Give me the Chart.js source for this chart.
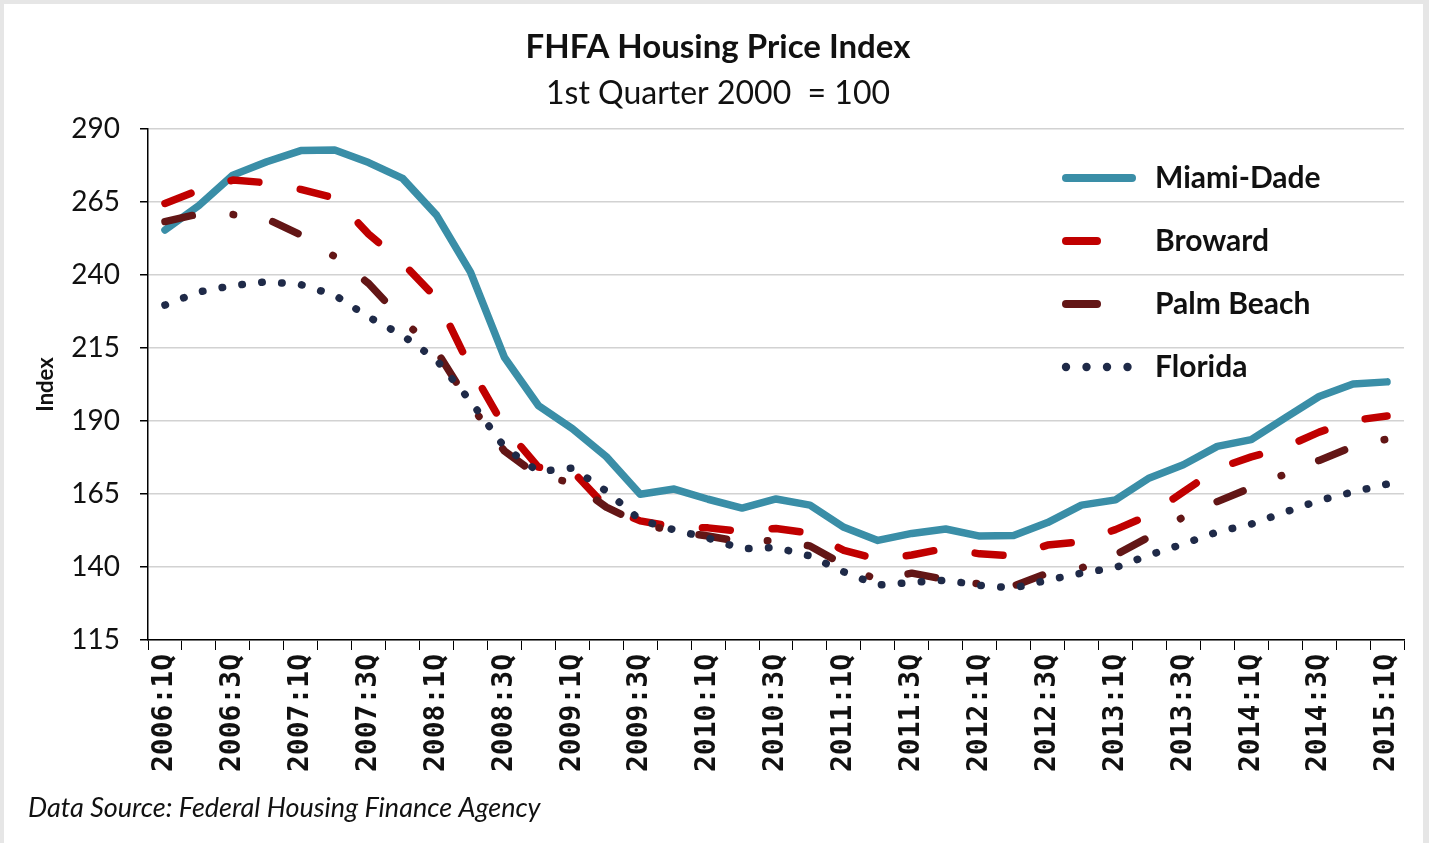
<!DOCTYPE html>
<html><head><meta charset="utf-8">
<script src="https://cdn.jsdelivr.net/npm/chart.js@4.4.1/dist/chart.umd.min.js"></script>
<style>html,body{margin:0;padding:0;background:#fff;overflow:hidden}#wrap{width:1429px;height:843px;position:relative}canvas{display:block}</style>
</head><body><div id="wrap"><canvas id="c" width="1429" height="843"></canvas></div>
<script>
const TITLE = 'FHFA Housing Price Index';
const SUBTITLE = '1st Quarter 2000  = 100';
const Y_TITLE = 'Index';
const SOURCE = 'Data Source: Federal Housing Finance Agency';

const quarters = ['2006:1Q','2006:2Q','2006:3Q','2006:4Q','2007:1Q','2007:2Q','2007:3Q','2007:4Q',
  '2008:1Q','2008:2Q','2008:3Q','2008:4Q','2009:1Q','2009:2Q','2009:3Q','2009:4Q',
  '2010:1Q','2010:2Q','2010:3Q','2010:4Q','2011:1Q','2011:2Q','2011:3Q','2011:4Q',
  '2012:1Q','2012:2Q','2012:3Q','2012:4Q','2013:1Q','2013:2Q','2013:3Q','2013:4Q',
  '2014:1Q','2014:2Q','2014:3Q','2014:4Q','2015:1Q'];

const miamiDade = [255.4,263.8,274.2,278.8,282.6,282.8,278.5,273.1,260.5,241.0,211.8,195.3,187.4,177.8,164.9,166.7,163.2,160.2,163.3,161.2,153.6,149.1,151.5,153.0,150.6,150.8,155.2,161.2,163.0,170.5,175.0,181.3,183.6,191.1,198.4,202.7,203.4];
const broward = [264.5,269.1,272.5,271.6,269.3,266.4,254.0,244.1,232.0,208.2,187.9,174.2,172.9,160.5,155.8,153.7,153.4,152.2,153.2,151.6,145.7,142.6,144.1,146.4,144.5,143.8,147.5,148.7,152.8,157.8,165.7,173.7,177.7,181.0,186.2,190.2,191.7];
const palmBeach = [258.3,260.9,260.7,259.2,253.7,246.3,237.1,224.6,214.0,195.5,179.7,171.2,168.9,160.5,154.9,152.2,150.6,148.6,149.1,147.2,140.7,135.5,137.9,135.7,134.2,133.5,137.9,139.7,144.1,150.4,157.1,162.4,167.2,171.8,176.5,181.3,183.8];
const florida = [229.7,234.2,236.4,237.7,236.7,233.1,225.6,219.3,210.9,196.8,181.1,172.7,173.9,166.0,156.1,152.7,149.9,146.2,146.7,143.8,138.3,133.8,134.7,135.5,133.7,132.8,135.5,137.9,139.8,144.1,147.9,152.0,154.7,158.8,162.8,165.7,168.4];

const seriesNames = ['Miami-Dade','Broward','Palm Beach','Florida'];
const seriesColors = ['#3A8EA7','#C00000','#631616','#1F2A48'];
const Y_MIN = 115, Y_MAX = 290, Y_STEP = 25;

const W = 7.5;
const datasets = [
  {label: seriesNames[0], data: miamiDade, borderColor: seriesColors[0], borderWidth: W, borderDash: [], order: 4},
  {label: seriesNames[1], data: broward, borderColor: seriesColors[1], borderWidth: W, borderDash: [28, 42], order: 3},
  {label: seriesNames[2], data: palmBeach, borderColor: seriesColors[2], borderWidth: W, borderDash: [28, 41, 0.5, 40], order: 2},
  {label: seriesNames[3], data: florida, borderColor: seriesColors[3], borderWidth: W, borderDash: [0.5, 19.5], order: 1}
].map(d => Object.assign(d, {fill: false, tension: 0, pointRadius: 0, pointHoverRadius: 0,
  borderCapStyle: 'round', borderJoinStyle: 'round', backgroundColor: d.borderColor}));

const bgPlugin = {
  id: 'bg',
  beforeDraw(chart) {
    const ctx = chart.ctx;
    ctx.save();
    ctx.fillStyle = '#e6e6e6';
    ctx.fillRect(0, 0, chart.width, chart.height);
    ctx.fillStyle = '#ffffff';
    ctx.fillRect(4, 4, chart.width - 10, chart.height - 4);
    ctx.restore();
  }
};

const legendPlugin = {
  id: 'customLegend',
  afterDatasetsDraw(chart) {
    const ctx = chart.ctx;
    const rows = [178, 241, 304, 367];
    const x0 = 1066, tx = 1155;
    ctx.save();
    chart.data.datasets.forEach((ds, i) => {
      const y = rows[i];
      ctx.strokeStyle = ds.borderColor;
      ctx.lineWidth = 8;
      ctx.lineCap = 'round';
      ctx.setLineDash([]);
      ctx.beginPath();
      if (i === 0) { ctx.moveTo(x0, y); ctx.lineTo(x0 + 66, y); ctx.stroke(); }
      else if (i === 3) {
        ctx.fillStyle = ds.borderColor;
        for (let k = 0; k < 4; k++) { ctx.beginPath(); ctx.arc(x0 + k * 20.5, y, 4.2, 0, Math.PI * 2); ctx.fill(); }
      } else { ctx.moveTo(x0, y); ctx.lineTo(x0 + 31, y); ctx.stroke(); }
      ctx.fillStyle = '#111';
      ctx.font = 'bold 30px Lato';
      ctx.textBaseline = 'middle';
      ctx.textAlign = 'left';
      ctx.fillText(ds.label, tx, y);
    });
    ctx.font = 'italic 27px Lato';
    ctx.fillStyle = '#111';
    ctx.textBaseline = 'middle';
    ctx.fillText(SOURCE, 28, 808);
    ctx.restore();
  }
};

new Chart(document.getElementById('c'), {
  type: 'line',
  data: {labels: quarters, datasets},
  plugins: [bgPlugin, legendPlugin],
  options: {
    responsive: false, animation: false, devicePixelRatio: 1,
    layout: {padding: {left: 32, right: 25, top: 0, bottom: 60}},
    plugins: {
      legend: {display: false}, tooltip: {enabled: false},
      title: {display: true, text: TITLE, color: '#111', font: {family: 'Lato', size: 33, weight: 'bold'}, padding: {top: 28, bottom: 6}},
      subtitle: {display: true, text: SUBTITLE, color: '#111', font: {family: 'Lato', size: 32, weight: 'normal'}, padding: {top: 1, bottom: 16}}
    },
    scales: {
      x: {
        type: 'category', offset: true,
        grid: {display: true, offset: true, drawOnChartArea: false, drawTicks: true, tickLength: 10, color: '#000', tickColor: '#000', lineWidth: 1},
        border: {display: true, color: '#000', width: 1.5},
        ticks: {autoSkip: false, maxRotation: 90, minRotation: 90, padding: 4, color: '#111',
          font: {family: 'DejaVu Sans Mono', size: 28, weight: 'bold'},
          callback: (v, i) => (i % 2 === 0 ? quarters[i] : '')},
        afterFit: (s) => { s.height = 143; }
      },
      y: {
        min: Y_MIN, max: Y_MAX,
        ticks: {stepSize: Y_STEP, padding: 20, color: '#111', font: {family: 'Lato', size: 28}},
        grid: {color: '#d2d2d2', lineWidth: 1.5, tickColor: '#000', tickLength: 8},
        border: {display: true, color: '#000', width: 1.5},
        title: {display: true, text: Y_TITLE, color: '#111', font: {family: 'Lato', size: 22, weight: 'bold'}, padding: {top: 1, bottom: 0}},
        afterFit: (s) => { s.width = 116; }
      }
    }
  }
});
</script></body></html>
